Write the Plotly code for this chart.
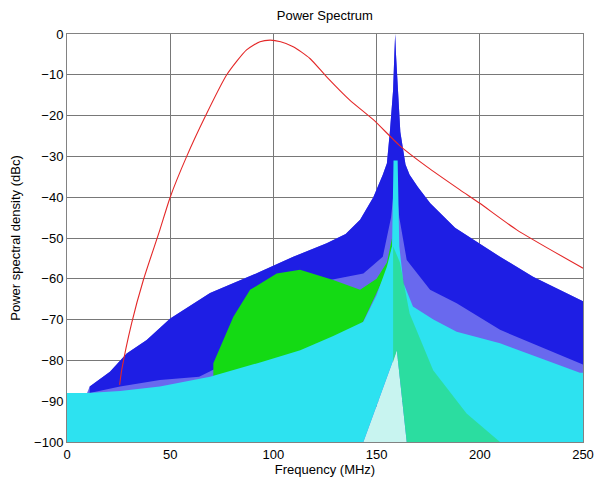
import plotly.graph_objects as go

# ---- data ----
# red reference curve (dBc vs MHz)
red_f = [25.5, 26.5, 31.3, 37, 45, 50, 58, 66.9, 77.4, 87, 93.5, 98.4, 103.5, 109.6,
         117.7, 125.8, 137, 148.4, 161.3, 174.3, 190.4, 200, 217.9, 250]
red_db = [-86, -82.4, -70.9, -60.3, -48, -40, -30, -20.3, -10, -3.9, -1.9, -1.5, -1.9, -3.1,
          -6, -10.5, -16.2, -21, -27.4, -32.5, -38.2, -41.5, -48, -57.4]

# blue spectrum: peak envelope and lower edge of its dense band
blue_f = [11, 20.8, 28.9, 38.6, 50, 69.3, 93.5, 109.6, 125.8, 135, 142, 148.4, 153, 155,
          156.5, 158, 158.6, 159, 159.4, 160.5, 161.5, 164, 166, 170, 176, 188, 209.8,
          225.8, 250]
blue_up = [-86.4, -82.8, -78.3, -75, -69.7, -63.5, -58.3, -54.6, -51.3, -49, -45.5, -40,
           -34.5, -31.7, -23.5, -13.7, -5, 0, -5, -15, -24, -32, -34.5, -37.5, -41.5,
           -47.5, -54.6, -59.5, -65.5]
blue_band_f = [11, 25.7, 45, 64, 80, 100, 127.4, 143.6, 153, 157, 159, 161, 164.6, 175.9,
               188.8, 209.8, 248.5, 250]
blue_band_lo = [-88, -86.4, -84.8, -84, -80, -72, -60.3, -58.7, -54.6, -45, -35, -45,
                -55.4, -62.7, -66, -72.5, -80.7, -81]

# floor of the spike region (pale notch under the carrier)
floor_f = [0, 143.6, 159.8, 164.6, 250]
floor_db = [-100, -100, -77.5, -100, -100]

# green spectrum (left lobe)
green_f = [70.9, 80.6, 88.7, 101.6, 112.9, 129, 142, 150, 155, 157.5]
green_up = [-80.7, -69.3, -62.7, -58.7, -57.8, -60.3, -62.7, -60, -56, -50]
green_lo_f = [70.9, 96.7, 113, 129, 143, 155, 157.5]
green_lo = [-84, -82, -78, -75, -71, -58, -52]

# green spectrum (right skirt)
greenR_f = [158, 161.3, 166, 177.4, 193.6, 209.8]
greenR_up = [-52, -56, -68.5, -82.4, -93, -100]
greenR_lo_f = [158, 159.8, 164.6, 209.8]
greenR_lo = [-80.5, -77.5, -100, -100]

# cyan spectrum
cyan_f = [0, 10, 25.7, 45, 69.3, 93.5, 113, 129, 143.6, 150, 155, 157.5, 158.2, 160.2,
          161, 163, 167.6, 177.5, 188.8, 209.8, 248.5, 250]
cyan_up = [-88, -88, -87.5, -86.4, -84, -80.5, -77.5, -74, -70.5, -64, -57, -52, -31, -31,
           -52, -61, -66.8, -70, -73, -75.8, -83, -83]

bottom_f = [0, 250]
bottom_db = [-100, -100]

x_ticks = [0, 50, 100, 150, 200, 250]
y_ticks = [0, -10, -20, -30, -40, -50, -60, -70, -80, -90, -100]


def band(xu, yu, xl, yl, color, opacity=1.0):
    return go.Scatter(x=list(xu) + list(xl)[::-1], y=list(yu) + list(yl)[::-1],
                      fill="toself", fillcolor=color, mode="none", opacity=opacity,
                      hoverinfo="skip", showlegend=False)


fig = go.Figure()
fig.add_trace(band(floor_f, floor_db, bottom_f, bottom_db, "rgb(200,244,240)"))
fig.add_trace(band(blue_f, blue_up, floor_f, floor_db, "rgb(105,105,238)"))
fig.add_trace(band(blue_f, blue_up, blue_band_f, blue_band_lo, "rgb(30,30,228)"))
fig.add_trace(band(green_f, green_up, green_lo_f, green_lo, "rgb(20,218,20)"))
fig.add_trace(band(cyan_f, cyan_up, floor_f, floor_db, "rgb(45,226,240)"))
fig.add_trace(band(greenR_f, greenR_up, greenR_lo_f, greenR_lo, "rgb(40,215,40)", 0.4))
fig.add_trace(go.Scatter(x=red_f, y=red_db, mode="lines",
                         line=dict(color="rgb(228,40,40)", width=1.1, shape="spline",
                                   smoothing=0.6),
                         showlegend=False))

font = dict(family="Liberation Sans, Arial, sans-serif", size=13, color="black")
fig.update_layout(
    width=595, height=489,
    margin=dict(l=67, r=12, t=34, b=47, autoexpand=False),
    paper_bgcolor="white", plot_bgcolor="white",
    font=font,
    title=dict(text="Power Spectrum", x=0.546, xanchor="center", y=0.978, yanchor="top",
               font=font),
    showlegend=False,
    xaxis=dict(range=[0, 250], tickvals=x_ticks, showgrid=True, automargin=False,
               gridcolor="rgb(120,120,120)", gridwidth=1, zeroline=False,
               showline=True, linecolor="rgb(130,130,130)", mirror=True,
               title=dict(text="Frequency (MHz)", standoff=3, font=font),
               layer="above traces", ticks="", tickfont=font),
    yaxis=dict(range=[-100, 0], tickvals=y_ticks, showgrid=True, automargin=False,
               gridcolor="rgb(120,120,120)", gridwidth=1, zeroline=False,
               showline=True, linecolor="rgb(130,130,130)", mirror=True,
               title=dict(text="Power spectral density (dBc)", standoff=10, font=font),
               layer="above traces", ticks="", tickfont=font),
)
fig.write_html("out.html",
               config={"displayModeBar": False},
               post_script="document.body.style.margin='0';"
                           "document.body.style.overflow='hidden';")
